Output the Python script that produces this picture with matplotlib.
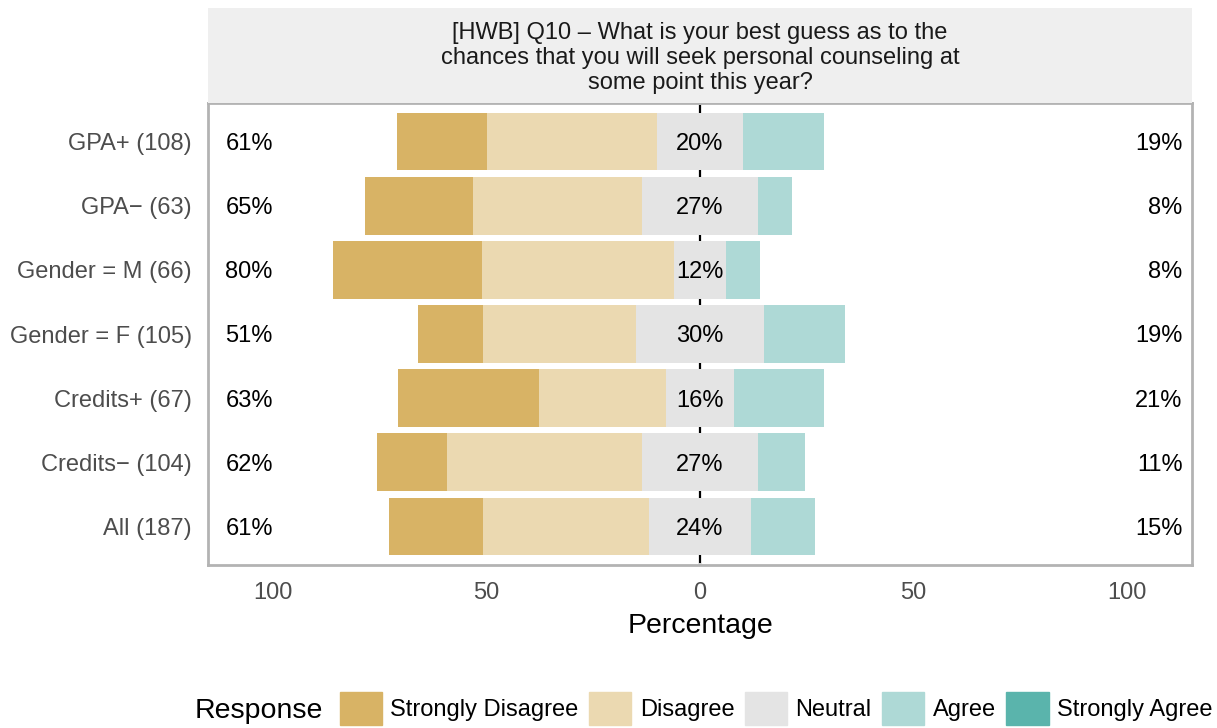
import matplotlib
matplotlib.use('Agg')
import matplotlib.pyplot as plt
import matplotlib.patches as mpatches
import numpy as np

plt.rcParams['font.family'] = ['Liberation Sans', 'DejaVu Sans']

# ── Data (percent of respondents per group) ─────────────────────────────────
groups = ['GPA+ (108)', 'GPA\u2212 (63)', 'Gender = M (66)', 'Gender = F (105)',
          'Credits+ (67)', 'Credits\u2212 (104)', 'All (187)']
strongly_disagree = [21.0, 25.4, 34.8, 15.2, 33.0, 16.3, 22.0]
disagree          = [40.0, 39.6, 45.2, 35.8, 29.7, 45.8, 38.8]
neutral           = [20.0, 27.0, 12.0, 30.0, 16.0, 27.0, 24.0]
agree             = [19.0,  8.0,  8.0, 19.0, 21.0, 11.0, 15.0]
strongly_agree    = [0.0] * 7

responses = ['Strongly Disagree', 'Disagree', 'Neutral', 'Agree', 'Strongly Agree']
colors = ['#D8B365', '#EBD9B1', '#E4E4E4', '#AED9D6', '#5AB4AC']
title = ('[HWB] Q10 \u2013 What is your best guess as to the\n'
         'chances that you will seek personal counseling at\n'
         'some point this year?')

sd = np.array(strongly_disagree); d = np.array(disagree); n = np.array(neutral)
a = np.array(agree); sa = np.array(strongly_agree)
y = np.arange(len(groups))[::-1] + 1   # first group on top

W, H = 1217, 728
fig = plt.figure(figsize=(W / 100, H / 100), dpi=100, facecolor='white')
ax = fig.add_axes([208 / W, 163 / H, (1192 - 208) / W, (565 - 103) / H])

bw = 0.9
ax.axvline(0, color='black', lw=1.6, zorder=0.5)
# negative side
ax.barh(y, -n / 2, height=bw, color=colors[2], zorder=1)
ax.barh(y, -d, left=-n / 2, height=bw, color=colors[1], zorder=1)
ax.barh(y, -sd, left=-n / 2 - d, height=bw, color=colors[0], zorder=1)
# positive side
ax.barh(y, n / 2, height=bw, color=colors[2], zorder=1)
ax.barh(y, a, left=n / 2, height=bw, color=colors[3], zorder=1)
ax.barh(y, sa, left=n / 2 + a, height=bw, color=colors[4], zorder=1)

fs = 17
for yi, l, m, r in zip(y, sd + d, n, a + sa):
    ax.text(-111.2, yi, f'{l:.0f}%', ha='left', va='center_baseline', fontsize=fs, zorder=3)
    ax.text(0, yi, f'{m:.0f}%', ha='center', va='center_baseline', fontsize=fs, zorder=3)
    ax.text(113.1, yi, f'{r:.0f}%', ha='right', va='center_baseline', fontsize=fs, zorder=3)

ax.set_xlim(-115.3, 115.3)
ax.set_ylim(0.4, len(groups) + 0.6)
ax.set_xticks([-100, -50, 0, 50, 100])
ax.set_xticklabels(['100', '50', '0', '50', '100'])
ax.set_xticks([-75, -25, 25, 75], minor=True)
ax.set_yticks(y)
ax.set_yticklabels(groups, va='center_baseline')
ax.tick_params(axis='both', which='both', colors='white', width=1.2, length=3,
               direction='inout', top=True, right=True, labelcolor='#4D4D4D',
               labelsize=fs)
ax.tick_params(axis='x', pad=11)
ax.tick_params(axis='y', pad=10)
for s in ax.spines.values():
    s.set_color('#B3B3B3')
    s.set_linewidth(2)
ax.set_xlabel('Percentage', fontsize=20.5, labelpad=6)

# strip with question text
sax = fig.add_axes([208 / W, (H - 103) / H, (1192 - 208) / W, (103 - 8) / H])
sax.set_facecolor('#EFEFEF')
sax.set_xticks([]); sax.set_yticks([])
for s in sax.spines.values():
    s.set_visible(False)
sax.text(0.5, 0.47, title, ha='center', va='center', fontsize=fs,
         linespacing=1.17, color='#1A1A1A', transform=sax.transAxes)

# legend
handles = [mpatches.Patch(color=c, label=r) for c, r in zip(colors, responses)]
fig.legend(handles=handles, loc='center', bbox_to_anchor=(776 / W, 19.5 / H),
           ncol=5, frameon=False, fontsize=fs, handlelength=1.8, handleheight=1.8,
           handletextpad=0.35, columnspacing=0.44, borderpad=0, borderaxespad=0)
fig.text(195 / W, 19.5 / H, 'Response', ha='left', va='center_baseline', fontsize=20.5)

plt.savefig('out.png', dpi=100, facecolor='white')
